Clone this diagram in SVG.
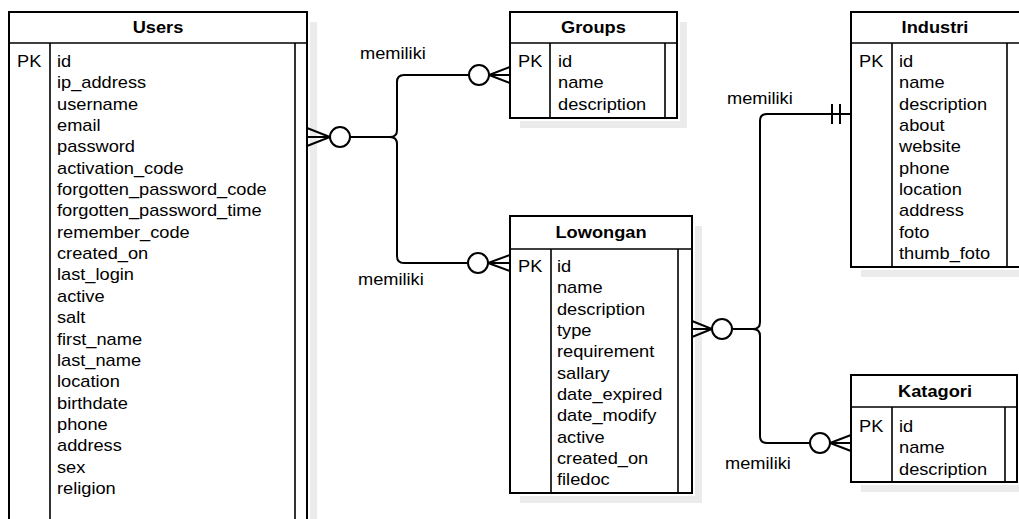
<svg xmlns="http://www.w3.org/2000/svg" width="1019" height="519" viewBox="0 0 1019 519">
<style>
.bg{fill:#ffffff}
.sh{fill:#ebebeb}
.under{fill:#ffffff;stroke:#ffffff;stroke-width:6}
.box{fill:none;stroke:#000000;stroke-width:2}
.div{fill:none;stroke:#000000;stroke-width:1.6}
.t{font-family:"Liberation Sans",Arial,sans-serif;font-size:16px;fill:#000000}
.h{font-weight:bold;text-anchor:middle}
.e{fill:none;stroke:#000000;stroke-width:2}
.c{fill:#ffffff;stroke:#000000;stroke-width:2}
</style>
<rect class="bg" x="0" y="0" width="1019" height="519"/>

<g id="node-users">
  <rect class="sh" x="19" y="22" width="298" height="520"/>
  <rect class="under" x="9" y="12" width="298" height="520"/>
  <rect class="box" x="9" y="12" width="298" height="520"/>
  <path class="div" d="M9,43 H307 M50,43 V532 M295,43 V532"/>
  <g transform="scale(1.14,1)">
    <text class="t h" x="138.6" y="33">Users</text>
    <text class="t" x="14.9" y="67">PK</text>
    <text class="t" x="50">
      <tspan x="50" y="67">id</tspan>
      <tspan x="50" dy="21.35">ip_address</tspan>
      <tspan x="50" dy="21.35">username</tspan>
      <tspan x="50" dy="21.35">email</tspan>
      <tspan x="50" dy="21.35">password</tspan>
      <tspan x="50" dy="21.35">activation_code</tspan>
      <tspan x="50" dy="21.35">forgotten_password_code</tspan>
      <tspan x="50" dy="21.35">forgotten_password_time</tspan>
      <tspan x="50" dy="21.35">remember_code</tspan>
      <tspan x="50" dy="21.35">created_on</tspan>
      <tspan x="50" dy="21.35">last_login</tspan>
      <tspan x="50" dy="21.35">active</tspan>
      <tspan x="50" dy="21.35">salt</tspan>
      <tspan x="50" dy="21.35">first_name</tspan>
      <tspan x="50" dy="21.35">last_name</tspan>
      <tspan x="50" dy="21.35">location</tspan>
      <tspan x="50" dy="21.35">birthdate</tspan>
      <tspan x="50" dy="21.35">phone</tspan>
      <tspan x="50" dy="21.35">address</tspan>
      <tspan x="50" dy="21.35">sex</tspan>
      <tspan x="50" dy="21.35">religion</tspan>
    </text>
  </g>
</g>

<g id="node-groups">
  <rect class="sh" x="520" y="22" width="167" height="106"/>
  <rect class="under" x="510" y="12" width="167" height="106"/>
  <rect class="box" x="510" y="12" width="167" height="106"/>
  <path class="div" d="M510,43 H677 M550,43 V118 M665,43 V118"/>
  <g transform="scale(1.14,1)">
    <text class="t h" x="520.6" y="33">Groups</text>
    <text class="t" x="454.4" y="67">PK</text>
    <text class="t">
      <tspan x="489.5" y="67">id</tspan>
      <tspan x="489.5" dy="21.35">name</tspan>
      <tspan x="489.5" dy="21.35">description</tspan>
    </text>
  </g>
</g>

<g id="node-industri">
  <rect class="sh" x="861" y="22" width="170" height="255"/>
  <rect class="under" x="851" y="12" width="170" height="255"/>
  <rect class="box" x="851" y="12" width="170" height="255"/>
  <path class="div" d="M851,43 H1021 M892,43 V267 M1007,43 V267"/>
  <g transform="scale(1.14,1)">
    <text class="t h" x="820.2" y="33">Industri</text>
    <text class="t" x="753.5" y="67">PK</text>
    <text class="t">
      <tspan x="788.6" y="67">id</tspan>
      <tspan x="788.6" dy="21.35">name</tspan>
      <tspan x="788.6" dy="21.35">description</tspan>
      <tspan x="788.6" dy="21.35">about</tspan>
      <tspan x="788.6" dy="21.35">website</tspan>
      <tspan x="788.6" dy="21.35">phone</tspan>
      <tspan x="788.6" dy="21.35">location</tspan>
      <tspan x="788.6" dy="21.35">address</tspan>
      <tspan x="788.6" dy="21.35">foto</tspan>
      <tspan x="788.6" dy="21.35">thumb_foto</tspan>
    </text>
  </g>
</g>

<g id="node-lowongan">
  <rect class="sh" x="520" y="226" width="182" height="277"/>
  <rect class="under" x="510" y="216" width="182" height="277"/>
  <rect class="box" x="510" y="216" width="182" height="277"/>
  <path class="div" d="M510,249 H692 M551,249 V493 M678,249 V493"/>
  <g transform="scale(1.14,1)">
    <text class="t h" x="527.2" y="238">Lowongan</text>
    <text class="t" x="454.4" y="272">PK</text>
    <text class="t">
      <tspan x="488.6" y="272">id</tspan>
      <tspan x="488.6" dy="21.35">name</tspan>
      <tspan x="488.6" dy="21.35">description</tspan>
      <tspan x="488.6" dy="21.35">type</tspan>
      <tspan x="488.6" dy="21.35">requirement</tspan>
      <tspan x="488.6" dy="21.35">sallary</tspan>
      <tspan x="488.6" dy="21.35">date_expired</tspan>
      <tspan x="488.6" dy="21.35">date_modify</tspan>
      <tspan x="488.6" dy="21.35">active</tspan>
      <tspan x="488.6" dy="21.35">created_on</tspan>
      <tspan x="488.6" dy="21.35">filedoc</tspan>
    </text>
  </g>
</g>

<g id="node-katagori">
  <rect class="sh" x="861" y="385" width="166" height="107"/>
  <rect class="under" x="851" y="375" width="166" height="107"/>
  <rect class="box" x="851" y="375" width="166" height="107"/>
  <path class="div" d="M851,407 H1017 M892,407 V482 M1005,407 V482"/>
  <g transform="scale(1.14,1)">
    <text class="t h" x="820.2" y="397">Katagori</text>
    <text class="t" x="753.5" y="432">PK</text>
    <text class="t">
      <tspan x="788.6" y="432">id</tspan>
      <tspan x="788.6" dy="21.35">name</tspan>
      <tspan x="788.6" dy="21.35">description</tspan>
    </text>
  </g>
</g>

<g id="connectors">
  <!-- Users - Groups -->
  <path class="e" d="M350,137 H390 Q397,137 397,130 V82 Q397,75 404,75 H469"/>
  <!-- Users - Lowongan -->
  <path class="e" d="M350,137 H390 Q397,137 397,144 V256 Q397,263 404,263 H468"/>
  <!-- Users end: many -->
  <path class="e" d="M307,128 L330,137 L307,146 M307,137 H330"/>
  <circle class="c" cx="340" cy="137" r="10"/>
  <!-- Groups end -->
  <path class="e" d="M510,67 L489,75 L510,83 M489,75 H510"/>
  <circle class="c" cx="479" cy="75" r="10"/>
  <!-- Lowongan left end -->
  <path class="e" d="M510,255 L488,263 L510,271 M488,263 H510"/>
  <circle class="c" cx="478" cy="263" r="10"/>

  <!-- Lowongan - Industri -->
  <path class="e" d="M732,329 H753 Q760,329 760,322 V121 Q760,114 767,114 H851"/>
  <path class="e" d="M832,104 V124 M840,104 V124"/>
  <!-- Lowongan - Katagori -->
  <path class="e" d="M732,329 H753 Q760,329 760,336 V436 Q760,443 767,443 H810"/>
  <!-- Lowongan right end -->
  <path class="e" d="M692,321 L712,329 L692,337 M692,329 H712"/>
  <circle class="c" cx="722" cy="329" r="10"/>
  <!-- Katagori end -->
  <path class="e" d="M851,435 L830,443 L851,451 M830,443 H851"/>
  <circle class="c" cx="820" cy="443" r="10"/>

  <g transform="scale(1.14,1)">
    <text class="t" x="315.8" y="59">memiliki</text>
    <text class="t" x="314" y="285">memiliki</text>
    <text class="t" x="637.7" y="104">memiliki</text>
    <text class="t" x="636" y="469">memiliki</text>
  </g>
</g>
</svg>
